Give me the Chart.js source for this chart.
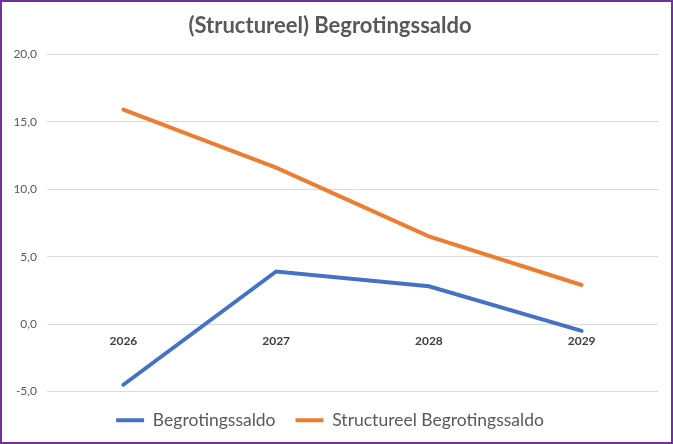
<!DOCTYPE html>
<html>
<head>
<meta charset="utf-8">
<script src="https://cdn.jsdelivr.net/npm/chart.js@4"></script>
<style>
html, body { margin: 0; padding: 0; background: #fff; }
#kader { width: 673px; height: 444px; box-sizing: border-box; border: 2px solid #7030A0; position: relative; }
</style>
</head>
<body>
<div id="kader"><canvas id="grafiek"></canvas></div>
<script>
// gegevens
const jaren = ['2026', '2027', '2028', '2029'];
const begrotingssaldo = [-4.5, 3.9, 2.8, -0.5];
const structureelSaldo = [15.9, 11.6, 6.5, 2.9];
const yMin = -5;
const yMax = 20;
const yStap = 5;

const lettertype = 'Lato, "Open Sans", sans-serif';

const ctx = document.getElementById('grafiek').getContext('2d');
new Chart(ctx, {
    type: 'line',
    data: {
        labels: jaren,
        datasets: [{
            label: 'Begrotingssaldo',
            data: begrotingssaldo,
            borderColor: '#4472C4',
            backgroundColor: '#4472C4',
            borderWidth: 4,
            borderCapStyle: 'round',
            pointRadius: 0,
            tension: 0
        }, {
            label: 'Structureel Begrotingssaldo',
            data: structureelSaldo,
            borderColor: '#ED7D31',
            backgroundColor: '#ED7D31',
            borderWidth: 4,
            borderCapStyle: 'round',
            pointRadius: 0,
            tension: 0
        }]
    },
    options: {
        responsive: true,
        maintainAspectRatio: false,
        animation: false,
        layout: { padding: { left: 0, right: 13, top: 0, bottom: 3 } },
        plugins: {
            title: {
                display: true,
                text: '(Structureel) Begrotingssaldo',
                color: '#595959',
                font: { family: lettertype, size: 22, weight: 'bold' },
                padding: { top: 11, bottom: 15 }
            },
            legend: {
                position: 'bottom',
                labels: {
                    usePointStyle: true,
                    pointStyle: 'line',
                    pointStyleWidth: 28,
                    color: '#595959',
                    font: { family: lettertype, size: 17.5 },
                    padding: 20
                }
            },
            tooltip: { enabled: false }
        },
        scales: {
            x: {
                position: { y: 0 },
                offset: true,
                grid: { display: false },
                border: { display: false },
                ticks: {
                    color: '#404040',
                    font: { family: lettertype, size: 12, weight: 'bold' },
                    padding: 2
                }
            },
            y: {
                min: yMin,
                max: yMax,
                grid: { color: '#D9D9D9', drawTicks: false },
                border: { display: false },
                ticks: {
                    stepSize: yStap,
                    color: '#595959',
                    font: { family: lettertype, size: 12 },
                    padding: 10,
                    callback: (v) => v.toFixed(1).replace('.', ',')
                },
                afterFit: (schaal) => { schaal.width = 45; }
            }
        }
    }
});
</script>
</body>
</html>
